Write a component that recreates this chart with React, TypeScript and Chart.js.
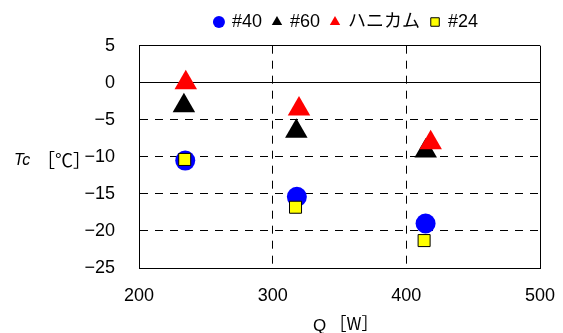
import React, { useEffect, useRef } from 'react';
import { Chart, registerables } from 'chart.js';

Chart.register(...registerables);

// ---- data ----
const seriesNames = ['#40', '#60', 'ハニカム', '#24'];
const q40 = [234.6, 318.1, 414.4];
const t40 = [-10.5, -15.4, -19.0];
const q60 = [233.6, 317.7, 414.5];
const t60 = [-3.1, -6.55, -9.2];
const qHoney = [235.0, 319.7, 418.2];
const tHoney = [0.0, -3.55, -8.1];
const q24 = [234.2, 317.1, 413.3];
const t24 = [-10.35, -16.8, -21.3];
const xTicks = [200, 300, 400, 500];
const yTicks = [5, 0, -5, -10, -15, -20, -25];
const xTitleVar = 'Q';
const xTitleUnit = '［W］';
const yTitleVar = 'Tc';
const yTitleUnit = '［℃］';

const FONT = "'Liberation Sans', 'Noto Sans CJK JP', sans-serif";

const pts = (xs: number[], ys: number[]) => xs.map((x, i) => ({ x, y: ys[i] }));
const minus = (v: number) => (v < 0 ? '\u2212' + Math.abs(v) : String(v));

export default function App() {
  const ref = useRef<HTMLCanvasElement | null>(null);

  useEffect(() => {
    if (!ref.current) return;

    const legendFit = {
      id: 'legendFit',
      beforeUpdate(chart: any) {
        const lg = chart.legend;
        if (lg && !lg.__patched) {
          const f = lg.fit;
          lg.fit = function () {
            f.call(this);
            this.height = 43.7;
          };
          const d = lg.draw;
          lg.draw = function () {
            const c = this.ctx;
            c.save();
            c.translate(7, 0);
            d.call(this);
            c.restore();
          };
          lg.__patched = true;
        }
      },
    };

    const axisTitles = {
      id: 'axisTitles',
      afterDraw(chart: any) {
        const ctx = chart.ctx as CanvasRenderingContext2D;
        const area = chart.chartArea;
        const y = chart.scales.y.getPixelForValue(-10);
        const cx = (area.left + area.right) / 2;
        ctx.save();
        ctx.fillStyle = '#000';
        ctx.textAlign = 'left';
        ctx.textBaseline = 'alphabetic';
        // y title (horizontal, left of the axis)
        ctx.font = "italic 16px 'Liberation Sans'";
        ctx.fillText(yTitleVar, 14, y + 8.5);
        ctx.font = "18px 'Noto Sans CJK JP'";
        ctx.fillText(yTitleUnit, 37, y + 10);
        // x title (below the tick labels)
        ctx.font = "17px 'Liberation Sans'";
        ctx.fillText(xTitleVar, cx - 26.5, 331);
        ctx.font = "17px 'Noto Sans CJK JP'";
        ctx.fillText(xTitleUnit, cx - 10, 330);
        ctx.restore();
      },
    };

    const edgeX = [xTicks[0], xTicks[xTicks.length - 1]];
    const edgeY = [yTicks[0], yTicks[yTicks.length - 1], 0];

    const chart = new Chart(ref.current, {
      type: 'scatter',
      data: {
        datasets: [
          {
            label: seriesNames[0],
            data: pts(q40, t40),
            pointStyle: 'circle',
            pointRadius: 10,
            backgroundColor: '#0000FF',
            borderColor: '#0000FF',
            borderWidth: 0,
            order: 3,
          },
          {
            label: seriesNames[1],
            data: pts(q60, t60),
            pointStyle: 'triangle',
            pointRadius: 13,
            backgroundColor: '#000000',
            borderColor: '#000000',
            borderWidth: 0,
            order: 2,
          },
          {
            label: seriesNames[2],
            data: pts(qHoney, tHoney),
            pointStyle: 'triangle',
            pointRadius: 13,
            backgroundColor: '#FF0000',
            borderColor: '#FF0000',
            borderWidth: 0,
            order: 1,
          },
          {
            label: seriesNames[3],
            data: pts(q24, t24),
            pointStyle: 'rect',
            pointRadius: 8.5,
            backgroundColor: '#FFFF00',
            borderColor: '#000000',
            borderWidth: 1,
            order: 0,
          },
        ],
      } as any,
      options: {
        responsive: false,
        animation: false,
        events: [],
        layout: { padding: { left: 0, right: 23, top: 2, bottom: 0 } },
        plugins: {
          legend: {
            position: 'top',
            fullSize: false,
            labels: {
              usePointStyle: true,
              boxWidth: 8,
              boxHeight: 8.5,
              padding: 11,
              color: '#000',
              font: { family: FONT, size: 18 },
              sort: (a: any, b: any) => a.datasetIndex - b.datasetIndex,
            },
          },
          tooltip: { enabled: false },
        },
        scales: {
          x: {
            type: 'linear',
            min: xTicks[0],
            max: xTicks[xTicks.length - 1],
            afterBuildTicks: (s: any) => {
              s.ticks = xTicks.map((v) => ({ value: v }));
            },
            afterFit: (s: any) => {
              s.height = 65;
            },
            ticks: {
              padding: 5,
              color: '#000',
              font: { family: FONT, size: 18 },
              callback: (v: any) => minus(Number(v)),
            },
            grid: {
              drawTicks: true,
              tickLength: 12,
              tickColor: 'rgba(0,0,0,0)',
              color: '#000',
              lineWidth: 1,
            },
            border: {
              color: '#000',
              width: 1,
              dash: (c: any) => (c.tick && !edgeX.includes(c.tick.value) ? [8, 7] : []),
            },
          },
          y: {
            type: 'linear',
            min: yTicks[yTicks.length - 1],
            max: yTicks[0],
            afterBuildTicks: (s: any) => {
              s.ticks = [...yTicks].reverse().map((v) => ({ value: v }));
            },
            afterFit: (s: any) => {
              s.width = 139;
            },
            ticks: {
              padding: 24,
              color: '#000',
              font: { family: FONT, size: 18 },
              callback: (v: any) => minus(Number(v)),
            },
            grid: { drawTicks: false, color: '#000', lineWidth: 1 },
            border: {
              color: '#000',
              width: 1,
              dash: (c: any) => (c.tick && !edgeY.includes(c.tick.value) ? [8, 7] : []),
            },
          },
        },
      } as any,
      plugins: [legendFit, axisTitles],
    });

    return () => chart.destroy();
  }, []);

  return (
    <div style={{ position: 'fixed', left: 0, top: 0, width: 563, height: 333, background: '#fff' }}>
      <canvas ref={ref} width={563} height={333} style={{ display: 'block' }} />
    </div>
  );
}
